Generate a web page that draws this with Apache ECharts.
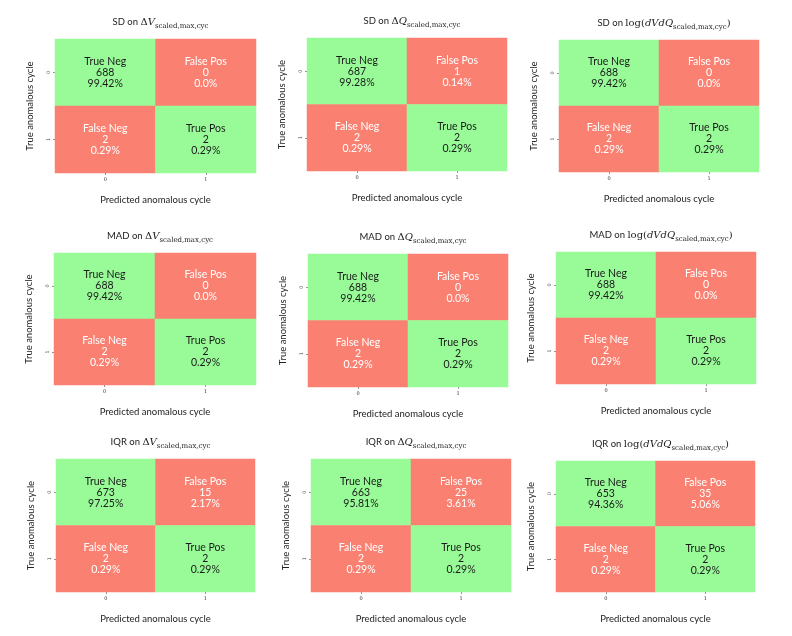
<!DOCTYPE html>
<html>
<head>
<meta charset="utf-8">
<script src="https://cdn.jsdelivr.net/npm/echarts@6/dist/echarts.min.js"></script>
<style>html,body{margin:0;padding:0;background:#fff}#c{width:792px;height:636px}</style>
</head>
<body>
<div id="c"></div>
<script>
// ---- data ----
const methods = ['SD', 'MAD', 'IQR'];
const featureTitles = [
  '{r|Δ}{m|V}{s|scaled,max,cyc}',
  '{r|Δ}{m|Q}{s|scaled,max,cyc}',
  '{r|log(}{m|dVdQ}{s|scaled,max,cyc}{r|)}'
];
const tickLabels = ['0', '1'];
const cellNames = [['True Neg', 'False Pos'], ['False Neg', 'True Pos']];
// counts per panel: [TN, FP, FN, TP]
const sdCounts  = [[688, 0, 2, 2], [687, 1, 2, 2], [688, 0, 2, 2]];
const madCounts = [[688, 0, 2, 2], [688, 0, 2, 2], [688, 0, 2, 2]];
const iqrCounts = [[673, 15, 2, 2], [663, 25, 2, 2], [653, 35, 2, 2]];
const sdPct  = [['99.42%', '0.0%', '0.29%', '0.29%'], ['99.28%', '0.14%', '0.29%', '0.29%'], ['99.42%', '0.0%', '0.29%', '0.29%']];
const madPct = [['99.42%', '0.0%', '0.29%', '0.29%'], ['99.42%', '0.0%', '0.29%', '0.29%'], ['99.42%', '0.0%', '0.29%', '0.29%']];
const iqrPct = [['97.25%', '2.17%', '0.29%', '0.29%'], ['95.81%', '3.61%', '0.29%', '0.29%'], ['94.36%', '5.06%', '0.29%', '0.29%']];

// ---- layout ----
const panelRects = [
  [55, 39, 201, 134], [307, 38, 200, 133], [559, 40, 200, 132],
  [54, 253, 202, 132], [308, 254, 200, 133], [556, 252, 200, 132],
  [56, 459, 199, 133], [311, 459, 200, 133], [556, 461, 199, 131]
];
const GREEN = '#98FB98', RED = '#FA8072';
const SANS = 'Lato, "DejaVu Sans", sans-serif';
const SERIF = '"DejaVu Serif", "Liberation Serif", serif';

const allCounts = [sdCounts, madCounts, iqrCounts];
const allPct = [sdPct, madPct, iqrPct];

const grids = [], xAxes = [], yAxes = [], series = [], titles = [];
for (let r = 0; r < 3; r++) {
  for (let c = 0; c < 3; c++) {
    const i = r * 3 + c;
    const [L, T, W, H] = panelRects[i];
    grids.push({left: L, top: T, width: W, height: H});
    titles.push({
      text: '{n|' + methods[r] + ' on }' + featureTitles[c],
      left: L + W / 2, top: T - 30, textAlign: 'center',
      textStyle: {
        fontWeight: 'normal',
        rich: {
          n: {fontFamily: SANS, fontSize: 9.5, fontWeight: 'normal', color: '#222', lineHeight: 16, verticalAlign: 'middle'},
          r: {fontFamily: SERIF, fontSize: 10, fontWeight: 'normal', color: '#222', lineHeight: 16, verticalAlign: 'middle'},
          m: {fontFamily: SERIF, fontSize: 10, fontWeight: 'normal', fontStyle: 'italic', color: '#222', lineHeight: 16, verticalAlign: 'middle'},
          s: {fontFamily: SERIF, fontSize: 7, fontWeight: 'normal', color: '#222', lineHeight: 16, verticalAlign: 'bottom'}
        }
      }
    });
    xAxes.push({
      gridIndex: i, type: 'category', data: tickLabels, position: 'bottom',
      name: 'Predicted anomalous cycle', nameLocation: 'middle', nameGap: 22,
      nameTextStyle: {fontFamily: SANS, fontSize: 9.5, color: '#222'},
      axisLine: {show: false},
      axisTick: {show: true, alignWithLabel: true, length: 2, lineStyle: {color: '#444', width: 0.6}},
      axisLabel: {fontFamily: SERIF, fontSize: 5, color: '#333', margin: 4},
      splitLine: {show: false}
    });
    yAxes.push({
      gridIndex: i, type: 'category', data: tickLabels, inverse: true,
      name: 'True anomalous cycle', nameLocation: 'middle', nameGap: 20, nameRotate: 90,
      nameTextStyle: {fontFamily: SANS, fontSize: 9.5, color: '#222'},
      axisLine: {show: false},
      axisTick: {show: true, alignWithLabel: true, length: 2, lineStyle: {color: '#444', width: 0.6}},
      axisLabel: {fontFamily: SERIF, fontSize: 5, color: '#333', margin: 4, rotate: 90},
      splitLine: {show: false}
    });
    const cnt = allCounts[r][c], pct = allPct[r][c];
    const data = [];
    for (let y = 0; y < 2; y++) {
      for (let x = 0; x < 2; x++) {
        const k = y * 2 + x;
        const diag = x === y;
        data.push({
          value: [x, y, cnt[k]],
          itemStyle: {color: diag ? GREEN : RED},
          label: {color: diag ? '#1a1a1a' : '#ffffff'},
          cell: cellNames[y][x], pct: pct[k]
        });
      }
    }
    series.push({
      type: 'heatmap', xAxisIndex: i, yAxisIndex: i, data: data,
      label: {
        show: true, fontFamily: SANS, fontSize: 10.5, lineHeight: 11,
        formatter: p => p.data.cell + '\n' + p.data.value[2] + '\n' + p.data.pct
      },
      emphasis: {disabled: true}
    });
  }
}

const chart = echarts.init(document.getElementById('c'), null, {renderer: 'canvas'});
chart.setOption({
  backgroundColor: '#ffffff',
  animation: false,
  title: titles,
  grid: grids,
  xAxis: xAxes,
  yAxis: yAxes,
  series: series
});
</script>
</body>
</html>
